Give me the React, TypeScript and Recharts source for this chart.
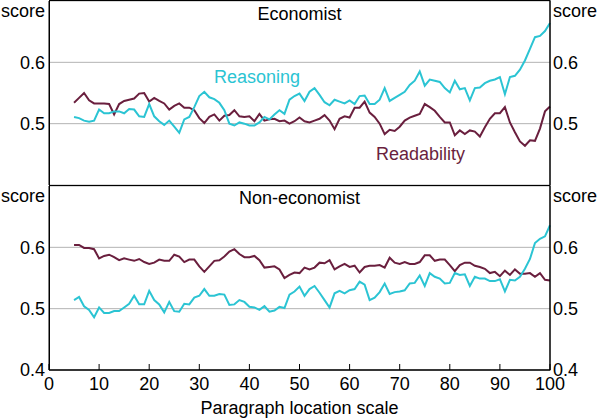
import { LineChart, Line, XAxis, YAxis, CartesianGrid } from "recharts";

// paragraph location scale (x positions)
const LOCATIONS = [
  5, 6, 7, 8, 9, 10, 11, 12, 13, 14, 15, 16, 17, 18, 19, 20, 21, 22, 23, 24,
  25, 26, 27, 28, 29, 30, 31, 32, 33, 34, 35, 36, 37, 38, 39, 40, 41, 42, 43, 44,
  45, 46, 47, 48, 49, 50, 51, 52, 53, 54, 55, 56, 57, 58, 59, 60, 61, 62, 63, 64,
  65, 66, 67, 68, 69, 70, 71, 72, 73, 74, 75, 76, 77, 78, 79, 80, 81, 82, 83, 84,
  85, 86, 87, 88, 89, 90, 91, 92, 93, 94, 95, 96, 97, 98, 99, 100,
];

// Economist panel
const ECON_REASONING = [
  0.511, 0.509, 0.505, 0.503, 0.505, 0.523, 0.517, 0.517, 0.52, 0.52, 0.517, 0.524, 0.523, 0.512, 0.511, 0.532,
  0.512, 0.504, 0.498, 0.505, 0.495, 0.485, 0.507, 0.511, 0.527, 0.545, 0.552, 0.543, 0.54, 0.534, 0.522, 0.5,
  0.497, 0.502, 0.5, 0.497, 0.497, 0.502, 0.511, 0.507, 0.515, 0.522, 0.516, 0.539, 0.545, 0.549, 0.537, 0.552,
  0.558, 0.547, 0.535, 0.53, 0.539, 0.536, 0.533, 0.538, 0.532, 0.545, 0.546, 0.532, 0.532, 0.539, 0.558, 0.537,
  0.542, 0.547, 0.552, 0.563, 0.57, 0.585, 0.562, 0.572, 0.57, 0.568, 0.558, 0.551, 0.57, 0.556, 0.558, 0.538,
  0.558, 0.559, 0.566, 0.57, 0.572, 0.576, 0.548, 0.576, 0.578, 0.588, 0.603, 0.622, 0.641, 0.643, 0.651, 0.664,
];
const ECON_READABILITY = [
  0.534, 0.542, 0.55, 0.538, 0.533, 0.533, 0.533, 0.532, 0.515, 0.532, 0.537, 0.539, 0.541, 0.549, 0.55, 0.536,
  0.542, 0.537, 0.533, 0.523, 0.529, 0.533, 0.526, 0.526, 0.522, 0.509, 0.501, 0.511, 0.515, 0.505, 0.513, 0.514,
  0.522, 0.512, 0.511, 0.512, 0.504, 0.516, 0.505, 0.507, 0.508, 0.504, 0.505, 0.5, 0.504, 0.51, 0.504, 0.502,
  0.505, 0.508, 0.514, 0.505, 0.491, 0.508, 0.512, 0.51, 0.526, 0.526, 0.536, 0.518, 0.511, 0.5, 0.483, 0.49,
  0.488, 0.495, 0.505, 0.51, 0.513, 0.516, 0.532, 0.527, 0.521, 0.511, 0.502, 0.502, 0.481, 0.489, 0.483, 0.489,
  0.487, 0.479, 0.494, 0.508, 0.517, 0.517, 0.527, 0.502, 0.486, 0.471, 0.464, 0.473, 0.472, 0.492, 0.52, 0.528,
];

// Non-economist panel
const NONECON_REASONING = [
  0.514, 0.519, 0.504, 0.498, 0.486, 0.502, 0.493, 0.493, 0.496, 0.496, 0.502, 0.508, 0.521, 0.507, 0.507, 0.529,
  0.514, 0.507, 0.494, 0.511, 0.496, 0.495, 0.508, 0.507, 0.518, 0.521, 0.532, 0.521, 0.521, 0.524, 0.523, 0.506,
  0.507, 0.514, 0.511, 0.503, 0.502, 0.498, 0.504, 0.495, 0.497, 0.503, 0.501, 0.523, 0.528, 0.536, 0.521, 0.532,
  0.537, 0.526, 0.514, 0.502, 0.525, 0.529, 0.525, 0.53, 0.532, 0.544, 0.539, 0.514, 0.518, 0.527, 0.541, 0.524,
  0.527, 0.528, 0.53, 0.541, 0.542, 0.554, 0.537, 0.558, 0.552, 0.549, 0.541, 0.542, 0.558, 0.555, 0.556, 0.537,
  0.552, 0.549, 0.549, 0.545, 0.545, 0.548, 0.528, 0.547, 0.546, 0.552, 0.565, 0.581, 0.607, 0.614, 0.618, 0.636,
];
const NONECON_READABILITY = [
  0.604, 0.604, 0.599, 0.599, 0.597, 0.582, 0.586, 0.588, 0.584, 0.579, 0.582, 0.58, 0.578, 0.581, 0.576, 0.573,
  0.575, 0.58, 0.578, 0.578, 0.588, 0.585, 0.576, 0.58, 0.58, 0.569, 0.56, 0.569, 0.578, 0.579, 0.585, 0.593,
  0.597, 0.589, 0.584, 0.584, 0.586, 0.579, 0.567, 0.568, 0.569, 0.564, 0.55, 0.555, 0.559, 0.558, 0.567, 0.564,
  0.567, 0.575, 0.574, 0.579, 0.564, 0.569, 0.573, 0.568, 0.57, 0.559, 0.568, 0.57, 0.57, 0.571, 0.567, 0.583,
  0.575, 0.573, 0.576, 0.573, 0.573, 0.576, 0.587, 0.587, 0.578, 0.58, 0.58, 0.571, 0.561, 0.571, 0.575, 0.575,
  0.57, 0.568, 0.565, 0.558, 0.56, 0.553, 0.562, 0.555, 0.564, 0.557, 0.557, 0.558, 0.552, 0.558, 0.547, 0.546,
];

const X_TICKS = [0, 10, 20, 30, 40, 50, 60, 70, 80, 90, 100];
const TOP_Y_TICKS = [0.5, 0.6];
const BOTTOM_Y_TICKS = [0.4, 0.5, 0.6];
const Y_DOMAIN = [0.4, 0.7];

const FONT = "Arial, 'Liberation Sans', sans-serif";
const CYAN = "#2bc4d3";
const MAROON = "#6a1f3e";
const GRID = "#b4b4b4";

const tickStyle = { fill: "#000", fontSize: 18, fontFamily: FONT };

export default function App() {
  const rows = LOCATIONS.map((x, i) => ({
    x,
    econReasoning: ECON_REASONING[i],
    econReadability: ECON_READABILITY[i],
    nonReasoning: NONECON_REASONING[i],
    nonReadability: NONECON_READABILITY[i],
  }));

  return (
    <div style={{ position: "absolute", left: 0, top: 0, width: 600, height: 420, background: "#fff" }}>
      {/* Economist panel */}
      <div style={{ position: "absolute", left: 0, top: 0 }}>
        <LineChart width={600} height={185} data={rows} margin={{ top: 1, right: 0, bottom: 0, left: 0 }}>
          <CartesianGrid vertical={false} stroke={GRID} />
          <XAxis
            dataKey="x"
            type="number"
            domain={[0, 100]}
            ticks={X_TICKS}
            tick={false}
            tickLine={false}
            height={0}
            axisLine={{ stroke: "#000" }}
          />
          <YAxis
            type="number"
            domain={Y_DOMAIN}
            ticks={TOP_Y_TICKS}
            width={49}
            tick={tickStyle}
            tickLine={false}
            tickSize={0}
            tickMargin={4}
            axisLine={{ stroke: "#000" }}
            interval={0}
          />
          <YAxis
            yAxisId="right"
            orientation="right"
            type="number"
            domain={Y_DOMAIN}
            ticks={TOP_Y_TICKS}
            width={50}
            tick={tickStyle}
            tickLine={false}
            tickSize={0}
            tickMargin={3}
            axisLine={{ stroke: "#000" }}
            interval={0}
          />
          <Line
            yAxisId="right"
            dataKey="econReadability"
            stroke={MAROON}
            strokeWidth={2}
            dot={false}
            isAnimationActive={false}
          />
          <Line dataKey="econReasoning" stroke={CYAN} strokeWidth={2} dot={false} isAnimationActive={false} />
        </LineChart>
      </div>

      {/* Non-economist panel */}
      <div style={{ position: "absolute", left: 0, top: 185 }}>
        <LineChart width={600} height={235} data={rows} margin={{ top: 1, right: 0, bottom: 0, left: 0 }}>
          <CartesianGrid vertical={false} stroke={GRID} />
          <XAxis
            dataKey="x"
            type="number"
            domain={[0, 100]}
            ticks={X_TICKS}
            interval={0}
            tick={tickStyle}
            tickSize={-6}
            tickMargin={13}
            tickLine={{ stroke: "#000" }}
            axisLine={{ stroke: "#000" }}
            height={50}
            label={{
              value: "Paragraph location scale",
              position: "insideBottom",
              offset: 6,
              fill: "#000",
              fontSize: 18,
              fontFamily: FONT,
            }}
          />
          <YAxis
            type="number"
            domain={Y_DOMAIN}
            ticks={BOTTOM_Y_TICKS}
            width={49}
            tick={tickStyle}
            tickLine={false}
            tickSize={0}
            tickMargin={4}
            axisLine={{ stroke: "#000" }}
            interval={0}
          />
          <YAxis
            yAxisId="right"
            orientation="right"
            type="number"
            domain={Y_DOMAIN}
            ticks={BOTTOM_Y_TICKS}
            width={50}
            tick={tickStyle}
            tickLine={false}
            tickSize={0}
            tickMargin={3}
            axisLine={{ stroke: "#000" }}
            interval={0}
          />
          <Line
            yAxisId="right"
            dataKey="nonReadability"
            stroke={MAROON}
            strokeWidth={2}
            dot={false}
            isAnimationActive={false}
          />
          <Line dataKey="nonReasoning" stroke={CYAN} strokeWidth={2} dot={false} isAnimationActive={false} />
        </LineChart>
      </div>

      {/* frame, panel titles, unit labels and series labels */}
      <svg
        width={600}
        height={420}
        style={{ position: "absolute", left: 0, top: 0, pointerEvents: "none" }}
        fontFamily={FONT}
        fontSize={18}
      >
        <rect x={49.5} y={0.5} width={500.5} height={369.5} fill="none" stroke="#000" />
        <line x1={49.5} x2={550} y1={185.5} y2={185.5} stroke="#000" />
        <text x={45} y={16.5} textAnchor="end">score</text>
        <text x={553} y={16.5}>score</text>
        <text x={45} y={201.5} textAnchor="end">score</text>
        <text x={553} y={201.5}>score</text>
        <text x={299.5} y={20} textAnchor="middle">Economist</text>
        <text x={299.5} y={204} textAnchor="middle">Non-economist</text>
        <text x={214} y={83} fill={CYAN}>Reasoning</text>
        <text x={376} y={160} fill={MAROON}>Readability</text>
      </svg>
    </div>
  );
}
